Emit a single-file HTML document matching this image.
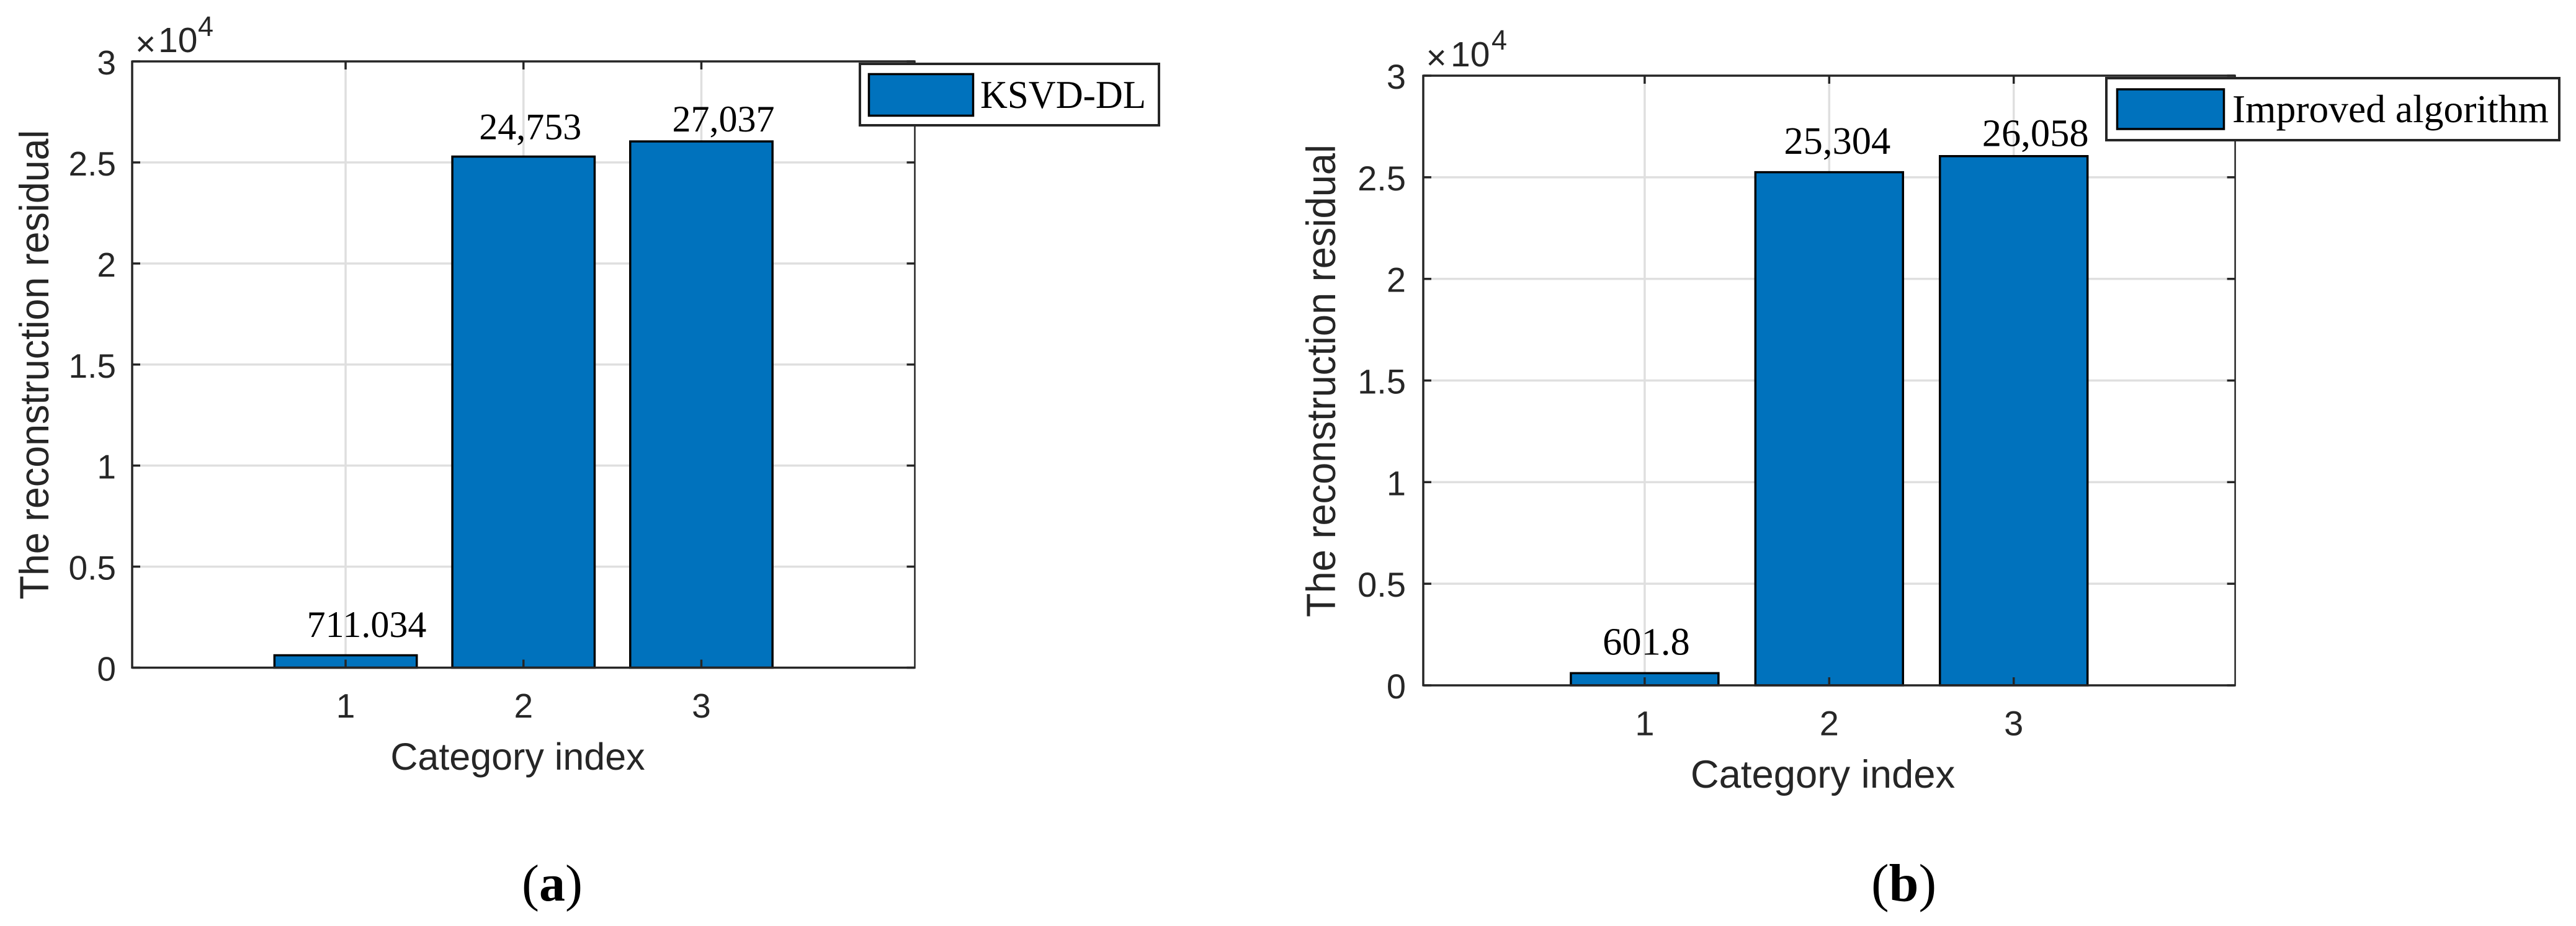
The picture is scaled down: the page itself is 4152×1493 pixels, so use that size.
<!DOCTYPE html>
<html lang="en">
<head>
<meta charset="utf-8">
<title>Reconstruction residual by category</title>
<style>
  html, body { margin: 0; padding: 0; background: #ffffff; }
  body { width: 4152px; height: 1493px; overflow: hidden; }
  svg { display: block; }
  .sans { font-family: "Liberation Sans", Arial, sans-serif; fill: #262626; }
  .serif { font-family: "Liberation Serif", "Times New Roman", serif; fill: #000000; }
</style>
</head>
<body>
<svg id="figure" xmlns="http://www.w3.org/2000/svg" width="4152" height="1493" viewBox="0 0 4152 1493">
  <rect x="0" y="0" width="4152" height="1493" fill="#ffffff"/>

  <g id="panel-a">
    <g id="a-grid"></g>
    <g id="a-bars"></g>
    <g id="a-ticks"></g>
    <g id="a-frame"></g>
    <g id="a-labels"></g>
    <text class="sans" font-size="65.5" text-anchor="middle" textLength="757" lengthAdjust="spacingAndGlyphs" transform="translate(78 588) rotate(-90)">The reconstruction residual</text>
    <text class="sans" font-size="61" text-anchor="middle" x="834.5" y="1241">Category index</text>
    <g>
      <text class="sans" font-size="57" x="218" y="90">×</text>
      <text class="sans" font-size="57" x="255" y="84">10</text>
      <text class="sans" font-size="45" x="319" y="58">4</text>
    </g>
    <g>
      <rect x="1386" y="103" width="482" height="99" fill="#ffffff" stroke="#262626" stroke-width="4"/>
      <rect x="1400.5" y="119.5" width="168" height="67" fill="#0072BD" stroke="#000000" stroke-width="3.5"/>
      <text class="serif" font-size="63" textLength="267" lengthAdjust="spacingAndGlyphs" x="1580" y="174">KSVD-DL</text>
    </g>
    <text class="serif" font-size="84" x="841" y="1452">(<tspan font-weight="bold">a</tspan>)</text>
  </g>

  <g id="panel-b">
    <g id="b-grid"></g>
    <g id="b-bars"></g>
    <g id="b-ticks"></g>
    <g id="b-frame"></g>
    <g id="b-labels"></g>
    <text class="sans" font-size="66" text-anchor="middle" textLength="762" lengthAdjust="spacingAndGlyphs" transform="translate(2152 614) rotate(-90)">The reconstruction residual</text>
    <text class="sans" font-size="63.4" text-anchor="middle" x="2938" y="1270">Category index</text>
    <g>
      <text class="sans" font-size="57" x="2298.5" y="112">×</text>
      <text class="sans" font-size="57" x="2338" y="107">10</text>
      <text class="sans" font-size="45" x="2404" y="80">4</text>
    </g>
    <g>
      <rect x="3395" y="126" width="730" height="100" fill="#ffffff" stroke="#262626" stroke-width="4"/>
      <rect x="3412.5" y="144" width="172" height="64" fill="#0072BD" stroke="#000000" stroke-width="3.5"/>
      <text class="serif" font-size="63.5" textLength="510" lengthAdjust="spacingAndGlyphs" x="3598" y="197">Improved algorithm</text>
    </g>
    <text class="serif" font-size="86" x="3016" y="1452.5">(<tspan font-weight="bold">b</tspan>)</text>
  </g>
</svg>

<script>
// ---- chart data (shared axes) ----
const categories = [1, 2, 3];
const yTicks = [0, 0.5, 1, 1.5, 2, 2.5, 3];
const yTickLabels = ['0', '0.5', '1', '1.5', '2', '2.5', '3'];
const xTickLabels = ['1', '2', '3'];

// ---- panel (a): KSVD-DL ----
const barValuesA = [613, 25290, 26040];
const printedValuesA = ['711.034', '24,753', '27,037'];

// ---- panel (b): Improved algorithm ----
const barValuesB = [600, 25250, 26040];
const printedValuesB = ['601.8', '25,304', '26,058'];

const NS = 'http://www.w3.org/2000/svg';
const X_MIN = -0.2, X_MAX = 4.2, Y_MAX = 30000, Y_EXP = 10000, BAR_WIDTH = 0.8;

function make(tag, attrs, parent, text) {
  const el = document.createElementNS(NS, tag);
  for (const k in attrs) el.setAttribute(k, attrs[k]);
  if (text !== undefined) el.textContent = text;
  parent.appendChild(el);
  return el;
}

function drawPanel(id, box, values, printed, nudges, valueFont, tickFont, tickRight) {
  const xScale = v => box.left + (v - X_MIN) / (X_MAX - X_MIN) * (box.right - box.left);
  const yScale = v => box.bottom - v / Y_MAX * (box.bottom - box.top);
  const grid = document.getElementById(id + '-grid');
  const bars = document.getElementById(id + '-bars');
  const ticks = document.getElementById(id + '-ticks');
  const frame = document.getElementById(id + '-frame');
  const labels = document.getElementById(id + '-labels');
  const GRID = { stroke: '#dfdfdf', 'stroke-width': 3.5 };
  const TICK = { stroke: '#262626', 'stroke-width': 3.5 };
  const TICK_LEN = 13;

  yTicks.forEach((t, i) => {
    const yv = yScale(t * Y_EXP);
    if (t > 0 && t < yTicks[yTicks.length - 1]) {
      const gl = make('line', { x1: box.left, x2: box.right, y1: yv, y2: yv, ...GRID }, grid);
      
      
    }
    const tl = make('line', { x1: box.left, x2: box.left + TICK_LEN, y1: yv, y2: yv, ...TICK }, ticks);
    
    
    const tr = make('line', { x1: box.right - TICK_LEN, x2: box.right, y1: yv, y2: yv, ...TICK }, ticks);
    
    
    const lab = make('text', { class: 'sans', 'font-size': tickFont, 'text-anchor': 'end', x: tickRight, y: yv + 21 }, labels, yTickLabels[i]);
    
    
  });

  categories.forEach((c, i) => {
    const xv = xScale(c);
    const gl = make('line', { x1: xv, x2: xv, y1: box.top, y2: box.bottom, ...GRID }, grid);
    
    

    const left = xScale(c - BAR_WIDTH / 2), right = xScale(c + BAR_WIDTH / 2), topY = yScale(values[i]);
    const bar = make('rect', { x: left, y: topY, width: right - left, height: box.bottom - topY, fill: '#0072BD', stroke: '#000000', 'stroke-width': 3.5 }, bars);
    
    

    const tb = make('line', { x1: xv, x2: xv, y1: box.bottom - TICK_LEN, y2: box.bottom, ...TICK }, ticks);
    
    
    const tt = make('line', { x1: xv, x2: xv, y1: box.top, y2: box.top + TICK_LEN, ...TICK }, ticks);
    
    

    const lab = make('text', { class: 'sans', 'font-size': tickFont, 'text-anchor': 'middle', x: xv, y: box.bottom + 80.5 }, labels, xTickLabels[i]);
    
    

    const val = make('text', { class: 'serif', 'font-size': valueFont, 'text-anchor': 'middle', x: xv + nudges[i].dx, y: topY - nudges[i].dy }, labels, printed[i]);
    
    
  });

  const sides = [
    { x1: box.left, x2: box.left, y1: box.top - 1.5, y2: box.bottom + 1.5, w: 3.5 },
    { x1: box.right, x2: box.right, y1: box.top - 1.5, y2: box.bottom + 1.5, w: 2.5 },
    { x1: box.left, x2: box.right, y1: box.top, y2: box.top, w: 3.5 },
    { x1: box.left, x2: box.right, y1: box.bottom, y2: box.bottom, w: 3.5 }
  ];
  sides.forEach(s => {
    const ln = make('line', { x1: s.x1, x2: s.x2, y1: s.y1, y2: s.y2, stroke: '#262626', 'stroke-width': s.w }, frame);
    
    
  });
}

drawPanel('a', { left: 213, right: 1474.5, top: 99, bottom: 1076.5 }, barValuesA, printedValuesA,
  [{ dx: 34, dy: 29.5 }, { dx: 11, dy: 28 }, { dx: 35.5, dy: 16 }], 60, 55, 187);
drawPanel('b', { left: 2294, right: 3602.6, top: 122, bottom: 1105 }, barValuesB, printedValuesB,
  [{ dx: 2.5, dy: 30 }, { dx: 13, dy: 29.5 }, { dx: 35, dy: 16.5 }], 62.5, 56, 2266);
</script>
</body>
</html>
